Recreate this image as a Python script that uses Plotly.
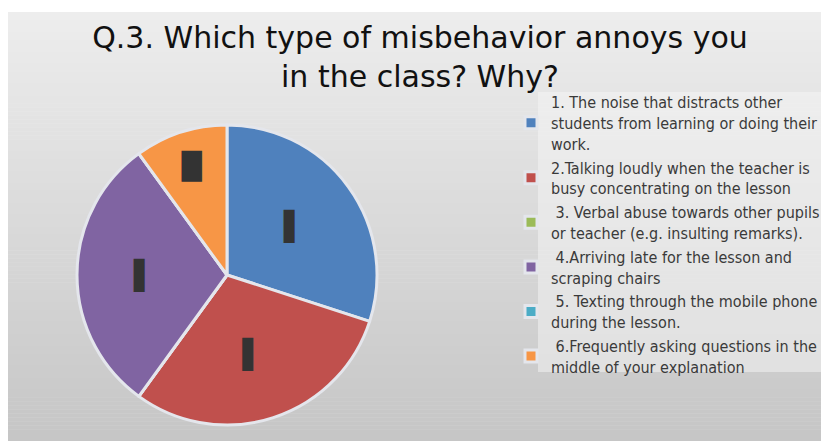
import plotly.graph_objects as go

categories = [
    "1. The noise that distracts other<br>students from learning or doing their<br>work.",
    "2.Talking loudly when the teacher is<br>busy concentrating on the lesson",
    " 3. Verbal abuse towards other pupils<br>or teacher (e.g. insulting remarks).",
    " 4.Arriving late for the lesson and<br>scraping chairs",
    " 5. Texting through the mobile phone<br>during the lesson.",
    " 6.Frequently asking questions in the<br>middle of your explanation",
]
values = [3, 3, 0, 3, 0, 1]
slice_text = ["▌", "▌", "", "▌", "", "█"]
colors = ["#4F81BD", "#C0504D", "#9BBB59", "#8064A2", "#4BACC6", "#F79646"]

W, H = 829, 441
OFF = 8  # page body margin


def fx(px):
    return (px - OFF) / W


def fy(py):
    return 1 - (py - OFF) / H


fig = go.Figure()
fig.add_trace(go.Pie(
    labels=categories,
    values=values,
    text=slice_text,
    texttemplate="%{text}",
    textposition="inside",
    insidetextorientation="horizontal",
    textfont=dict(family="DejaVu Sans", size=[28, 28, 28, 28, 28, 26], color="#333333"),
    marker=dict(colors=colors, line=dict(color="#e4e6ec", width=3)),
    sort=False,
    direction="clockwise",
    rotation=0,
    hole=0,
    domain=dict(x=[fx(77), fx(377)], y=[fy(426), fy(124)]),
    showlegend=True,
))

# background: grey gradient slide
shapes = []
n = 110
top_c = (237, 237, 237)
bot_c = (197, 197, 197)
y0p, y1p = 12, H + OFF
for i in range(n):
    t = i / (n - 1)
    c = tuple(int(round(top_c[k] + (bot_c[k] - top_c[k]) * t)) for k in range(3))
    ya = y0p + (y1p - y0p) * i / n
    yb = y0p + (y1p - y0p) * (i + 1) / n
    shapes.append(dict(
        type="rect", xref="paper", yref="paper", layer="below",
        x0=0, x1=1, y0=fy(yb + 0.5), y1=fy(ya),
        fillcolor="rgb(%d,%d,%d)" % c, line=dict(width=0),
    ))
# lighter panel behind legend
shapes.append(dict(
    type="rect", xref="paper", yref="paper", layer="below",
    x0=fx(538), x1=1, y0=fy(372), y1=fy(92),
    fillcolor="rgba(246,246,246,0.5)", line=dict(width=0),
))

fig.update_layout(
    width=W, height=H,
    margin=dict(l=0, r=0, t=0, b=0),
    paper_bgcolor="white",
    plot_bgcolor="white",
    shapes=shapes,
    title=dict(
        text="Q.3. Which type of misbehavior annoys you<br>in the class? Why?",
        font=dict(family="DejaVu Sans", size=30, color="#111111"),
        x=fx(420), xanchor="center",
        y=1 - 40 / H, yanchor="top", yref="container",
    ),
    legend=dict(
        x=fx(511), xanchor="left",
        y=fy(85), yanchor="top",
        font=dict(family="DejaVu Sans Condensed", size=16, color="#3a3a3a"),
        bgcolor="rgba(0,0,0,0)",
        itemwidth=30,
        valign="middle",
        tracegroupgap=0,
    ),
)

fig.write_html("out.html")
